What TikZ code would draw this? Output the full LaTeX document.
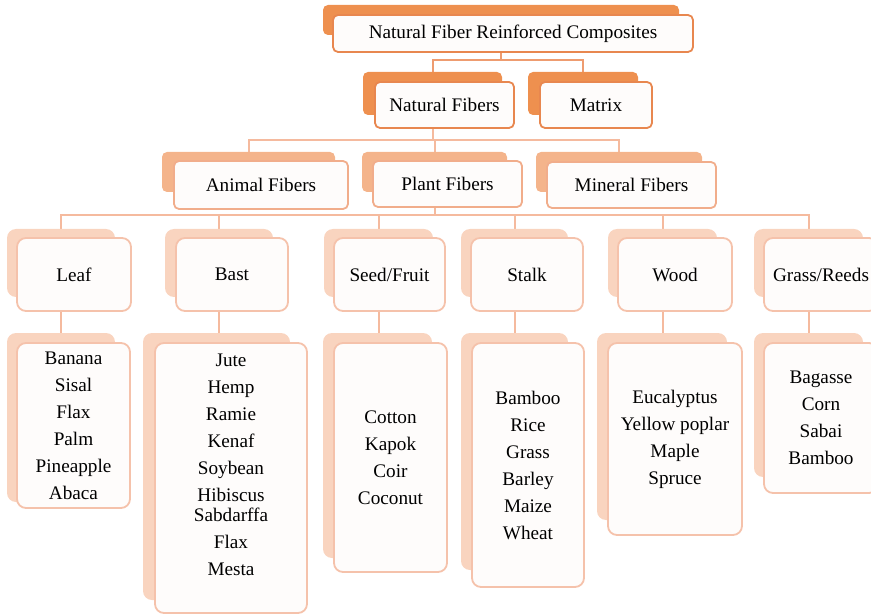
\documentclass[tikz,border=0pt]{standalone}
\usepackage{fontspec}
\setmainfont{Liberation Serif}
\usetikzlibrary{fit,backgrounds}

\definecolor{backA}{HTML}{EE904F}
\definecolor{lineA}{HTML}{E8874F}
\definecolor{backB}{HTML}{F4B48B}
\definecolor{lineB}{HTML}{F1AD8B}
\definecolor{backC}{HTML}{F9D4BF}
\definecolor{lineC}{HTML}{F5C2AB}
\definecolor{boxfill}{HTML}{FEFCFB}
\definecolor{linkA}{HTML}{EE9C70}
\definecolor{linkB}{HTML}{F5BA9E}

\tikzset{
  topback/.style={fill=backA, inner sep=0pt, rounded corners=2.5pt},
  topfront/.style={draw=lineA, fill=boxfill, line width=0.9pt, inner sep=0pt, rounded corners=2.5pt},
  midback/.style={fill=backB, inner sep=0pt, rounded corners=2.5pt},
  midfront/.style={draw=lineB, fill=boxfill, line width=0.9pt, inner sep=0pt, rounded corners=2.5pt},
  lowback/.style={fill=backC, inner sep=0pt, rounded corners=4.5pt},
  lowfront/.style={draw=lineC, fill=boxfill, line width=0.9pt, inner sep=0pt, rounded corners=4.5pt},
  lbl/.style={align=center, inner sep=0pt, font=\fontsize{9.6}{13.5}\selectfont},
  toplink/.style={draw=linkA, line width=1pt},
  link/.style={draw=linkB, line width=1pt},
}

% back box (named), front box (name-f), text (name-t)
\newcommand\fibrebox[6][]{%
  \node[#2back, fit={#4}] (#3) {};
  \node[#2front, fit={#5}] (#3-f) {};
  \node[lbl, #1] (#3-t) at (#3-f) {#6};
}

\begin{document}
\begin{tikzpicture}[x=0.5pt,y=-0.5pt]
    \useasboundingbox (0,0) rectangle (871,614);

    \fibrebox{top}{top}{(323,5) (679,35)}{(333,15) (693,52)}{Natural Fiber Reinforced Composites}

    \fibrebox{top}{natfib}{(363,72) (502,115)}{(375,82) (514,128)}{Natural Fibers}
    \fibrebox{top}{matrix}{(528,72) (638,115)}{(540,82) (652,128)}{Matrix}

    \fibrebox{mid}{animal}{(162,152) (335,192)}{(174,161) (348,209)}{Animal Fibers}
    \fibrebox{mid}{plant}{(362,152) (507,192)}{(373,161) (522,207)}{Plant Fibers}
    \fibrebox{mid}{mineral}{(536,152) (702,192)}{(547,162) (716,208)}{Mineral Fibers}

    \fibrebox{low}{leaf}{(7,229) (115,297)}{(17,238) (131,311)}{Leaf}
    \fibrebox{low}{bast}{(165,229) (273,297)}{(176,238) (288,311)}{Bast}
    \fibrebox{low}{seed}{(324,229) (433,297)}{(334,238) (445,311)}{Seed/Fruit}
    \fibrebox{low}{stalk}{(461,229) (568,297)}{(471,238) (583,311)}{Stalk}
    \fibrebox{low}{wood}{(608,229) (717,297)}{(618,238) (732,311)}{Wood}
    \fibrebox{low}{grass}{(754,229) (863,297)}{(764,238) (878,311)}{Grass/Reeds}

    \fibrebox{low}{list-leaf}{(7,333) (115,502)}{(17,343) (130,508)}
        {Banana\\Sisal\\Flax\\Palm\\Pineapple\\Abaca}
    \fibrebox[yshift=6.5pt]{low}{list-bast}{(143,333) (290,600)}{(155,343) (307,613)}
        {Jute\\Hemp\\Ramie\\Kenaf\\Soybean\\Hibiscus\\[-3.5pt]Sabdarffa\\Flax\\Mesta}
    \fibrebox{low}{list-seed}{(323,333) (432,558)}{(334,343) (447,572)}
        {Cotton\\Kapok\\Coir\\Coconut}
    \fibrebox{low}{list-stalk}{(461,333) (568,570)}{(472,343) (584,587)}
        {Bamboo\\Rice\\Grass\\Barley\\Maize\\Wheat}
    \fibrebox{low}{list-wood}{(597,333) (727,520)}{(608,343) (742,535)}
        {Eucalyptus\\Yellow poplar\\Maple\\Spruce}
    \fibrebox{low}{list-grass}{(754,333) (863,477)}{(764,343) (878,493)}
        {Bagasse\\Corn\\Sabai\\Bamboo}

    \coordinate (busA) at (0,60);
    \coordinate (busB) at (0,140);
    \coordinate (busC) at (0,215);

    \begin{scope}[on background layer]
    \draw[toplink] (top.south) -- (top.south |- busA) -| (natfib.north);
    \draw[toplink] (top.south |- busA) -| (matrix.north);

    \draw[link] (natfib.south) -- (natfib.south |- busB);
    \foreach \n in {animal,plant,mineral}
        \draw[link] (natfib.south |- busB) -| (\n.north);

    \draw[link] (plant.south) -- (plant.south |- busC);
    \foreach \n in {leaf,bast,seed,stalk,wood,grass}
        \draw[link] (plant.south |- busC) -| (\n.north);

    \foreach \n in {leaf,bast,seed,stalk,wood,grass}
        \draw[link] (\n.south) -- (\n.south |- list-\n.north);
    \end{scope}
\end{tikzpicture}
\end{document}
